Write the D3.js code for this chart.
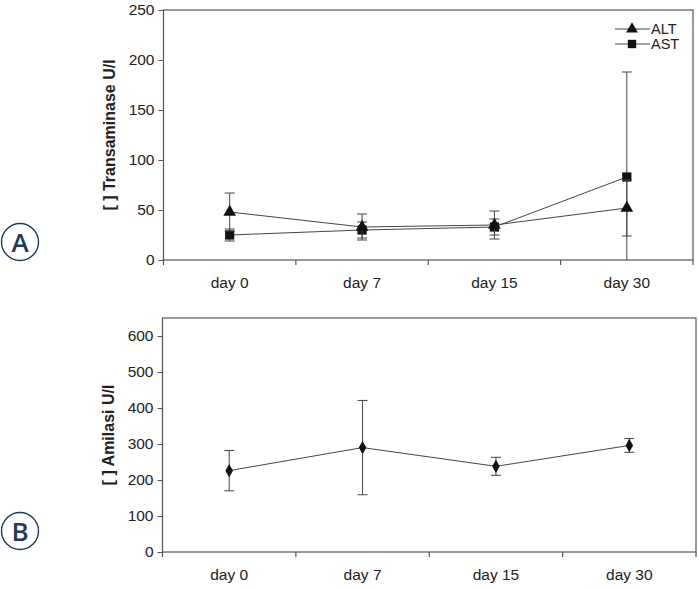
<!DOCTYPE html>
<html><head><meta charset="utf-8">
<script src="https://cdn.jsdelivr.net/npm/d3@7"></script>
<style>body{margin:0;background:#fff}svg{display:block}</style>
</head><body>
<script>
const categories = ["day 0", "day 7", "day 15", "day 30"];
const altMean = [48, 33, 35, 52];
const altErr  = [19, 13, 14, 28];
const astMean = [25, 30, 33, 83];
const astErr  = [6, 8, 8, 105];
const amilasiMean = [226, 290, 238, 296];
const amilasiErr  = [56, 131, 25, 19];
const ticksA = [0, 50, 100, 150, 200, 250];
const ticksB = [0, 100, 200, 300, 400, 500, 600];
const legendNames = ["ALT", "AST"];

const W = 699, H = 589;
const svg = d3.select("body").append("svg").attr("width", W).attr("height", H);
const font = "Liberation Sans, Arial, sans-serif";
const ink = "#222";

function panel(cfg) {
  const x = d3.scaleBand().domain(categories).range([cfg.left, cfg.right]).padding(0);
  const y = d3.scaleLinear().domain(cfg.domain).range([cfg.bottom, cfg.top]);
  const g = svg.append("g");
  g.append("rect").attr("x", cfg.left).attr("y", cfg.top)
    .attr("width", cfg.right - cfg.left).attr("height", cfg.bottom - cfg.top)
    .attr("fill", "none").attr("stroke", "#555").attr("stroke-width", 1.2);
  const ya = g.append("g").attr("transform", `translate(${cfg.left},0)`)
    .call(d3.axisLeft(y).tickValues(cfg.ticks).tickSize(5).tickPadding(4));
  ya.select(".domain").remove();
  ya.selectAll("line").attr("stroke", "#555");
  ya.selectAll("text").attr("font-family", font).attr("font-size", 15.5).attr("fill", ink);
  const xa = g.append("g").attr("transform", `translate(0,${cfg.bottom})`)
    .call(d3.axisBottom(x).tickSize(0).tickPadding(17));
  xa.select(".domain").remove();
  xa.selectAll("text").attr("font-family", font).attr("font-size", 15.5).attr("fill", ink);
  const bounds = categories.map(c => x(c)).concat([x.range()[1]]);
  g.selectAll(".bt").data(bounds).join("line")
    .attr("x1", d => d).attr("x2", d => d)
    .attr("y1", cfg.bottom).attr("y2", cfg.bottom + 5)
    .attr("stroke", "#555").attr("stroke-width", 1.2);
  g.append("text")
    .attr("transform", `translate(${cfg.titleX},${(cfg.top + cfg.bottom) / 2}) rotate(-90)`)
    .attr("text-anchor", "middle").attr("font-family", font).attr("font-weight", "bold")
    .attr("font-size", 16).attr("fill", ink).text(cfg.title);
  return {x, y, g, cx: c => x(c) + x.bandwidth() / 2};
}

function series(p, means, errs, symbol, size) {
  const pts = categories.map((c, i) => ({x: p.cx(c), m: means[i], e: errs[i]}));
  const yMin = p.y.domain()[0], yMax = p.y.domain()[1];
  pts.forEach(d => {
    const lo = Math.max(yMin, d.m - d.e), hi = Math.min(yMax, d.m + d.e);
    p.g.append("line").attr("x1", d.x).attr("x2", d.x)
      .attr("y1", p.y(lo)).attr("y2", p.y(hi)).attr("stroke", "#444").attr("stroke-width", 1);
    [d.m - d.e, d.m + d.e].forEach(v => {
      if (v < yMin || v > yMax) return;
      p.g.append("line").attr("x1", d.x - 5).attr("x2", d.x + 5)
        .attr("y1", p.y(v)).attr("y2", p.y(v)).attr("stroke", "#444").attr("stroke-width", 1);
    });
  });
  p.g.append("path").datum(pts)
    .attr("d", d3.line().x(d => d.x).y(d => p.y(d.m)))
    .attr("fill", "none").attr("stroke", "#444").attr("stroke-width", 1);
  p.g.selectAll(null).data(pts).join("path")
    .attr("transform", d => `translate(${d.x},${p.y(d.m)})`)
    .attr("d", d3.symbol().type(symbol).size(size))
    .attr("fill", "#111");
}

const A = panel({left: 163.5, right: 693, top: 10, bottom: 260, domain: [0, 250], ticks: ticksA,
  title: "[ ] Transaminase U/l", titleX: 115});
series(A, astMean, astErr, d3.symbolSquare, 85);
series(A, altMean, altErr, d3.symbolTriangle, 70);

const legend = [{name: legendNames[0], sym: d3.symbolTriangle, size: 60, y: 29},
                {name: legendNames[1], sym: d3.symbolSquare, size: 70, y: 44}];
legend.forEach(l => {
  A.g.append("line").attr("x1", 615).attr("x2", 650).attr("y1", l.y).attr("y2", l.y)
    .attr("stroke", "#444").attr("stroke-width", 1);
  A.g.append("path").attr("transform", `translate(632,${l.y})`)
    .attr("d", d3.symbol().type(l.sym).size(l.size)).attr("fill", "#111");
  A.g.append("text").attr("x", 651).attr("y", l.y + 4.5).attr("font-family", font)
    .attr("font-size", 14.5).attr("fill", ink).text(l.name);
});

const B = panel({left: 162.5, right: 696, top: 318, bottom: 552, domain: [0, 650], ticks: ticksB,
  title: "[ ] Amilasi U/l", titleX: 114});
series(B, amilasiMean, amilasiErr, d3.symbolDiamond, 50);

[{t: "A", cy: 242}, {t: "B", cy: 531}].forEach(c => {
  svg.append("circle").attr("cx", 20).attr("cy", c.cy).attr("r", 18.5)
    .attr("fill", "none").attr("stroke", "#1f3a60").attr("stroke-width", 1.4);
  svg.append("text").attr("x", 20).attr("y", c.cy + 9.5).attr("text-anchor", "middle")
    .attr("font-family", "Open Sans, sans-serif").attr("font-weight", 600).attr("font-size", 26)
    .attr("fill", "#1f3a60").text(c.t);
});
</script>
</body></html>
